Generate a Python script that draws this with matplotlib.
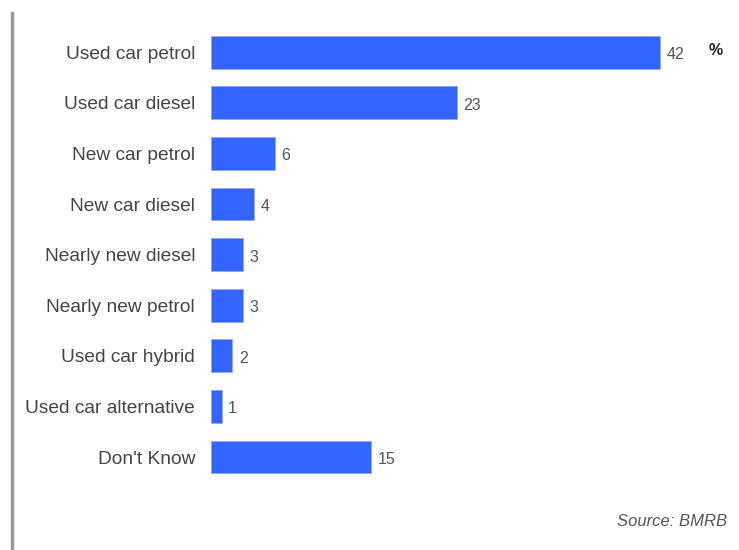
import matplotlib
matplotlib.use("Agg")
import matplotlib.pyplot as plt
from matplotlib.lines import Line2D

categories = ["Used car petrol", "Used car diesel", "New car petrol", "New car diesel",
              "Nearly new diesel", "Nearly new petrol", "Used car hybrid",
              "Used car alternative", "Don't Know"]
values = [42, 23, 6, 4, 3, 3, 2, 1, 15]

plt.rcParams['font.family'] = ['Liberation Sans', 'DejaVu Sans']

fig = plt.figure(figsize=(7.39, 5.5), dpi=100)
ax = fig.add_axes([211 / 739, 0.123, 513 / 739, 0.828])

pos = list(range(len(categories)))
ax.barh(pos, values, height=0.65, color='#3464FF', edgecolor='#8fa8ff', linewidth=0.6)
ax.set_ylim(len(categories) - 0.5, -0.5)
ax.set_xlim(0, 48)

for y, v in zip(pos, values):
    ax.text(v + 0.6, y + 0.05, str(v), va='center', ha='left', fontsize=11.5,
            color='#555555')

ax.set_yticks(pos)
ax.set_yticklabels(categories, fontsize=13.8, color='#444444')
ax.tick_params(axis='y', length=0, pad=11.5)
ax.set_xticks([])
for s in ax.spines.values():
    s.set_visible(False)

# percent marker beside the top bar
ax.text(47.2, -0.03, "%", va='center', ha='center', fontsize=11.5, fontweight='bold', color='#222222')

fig.text(727 / 739, 1 - 521 / 550, "Source: BMRB", ha='right', va='center',
         fontsize=12, style='italic', color='#555555')

# grey rule down the left edge
fig.add_artist(Line2D([12 / 739, 12 / 739], [0, 1 - 13 / 550], color='#999999',
                      linewidth=2.5, transform=fig.transFigure))

fig.savefig("out.png", dpi=100)
